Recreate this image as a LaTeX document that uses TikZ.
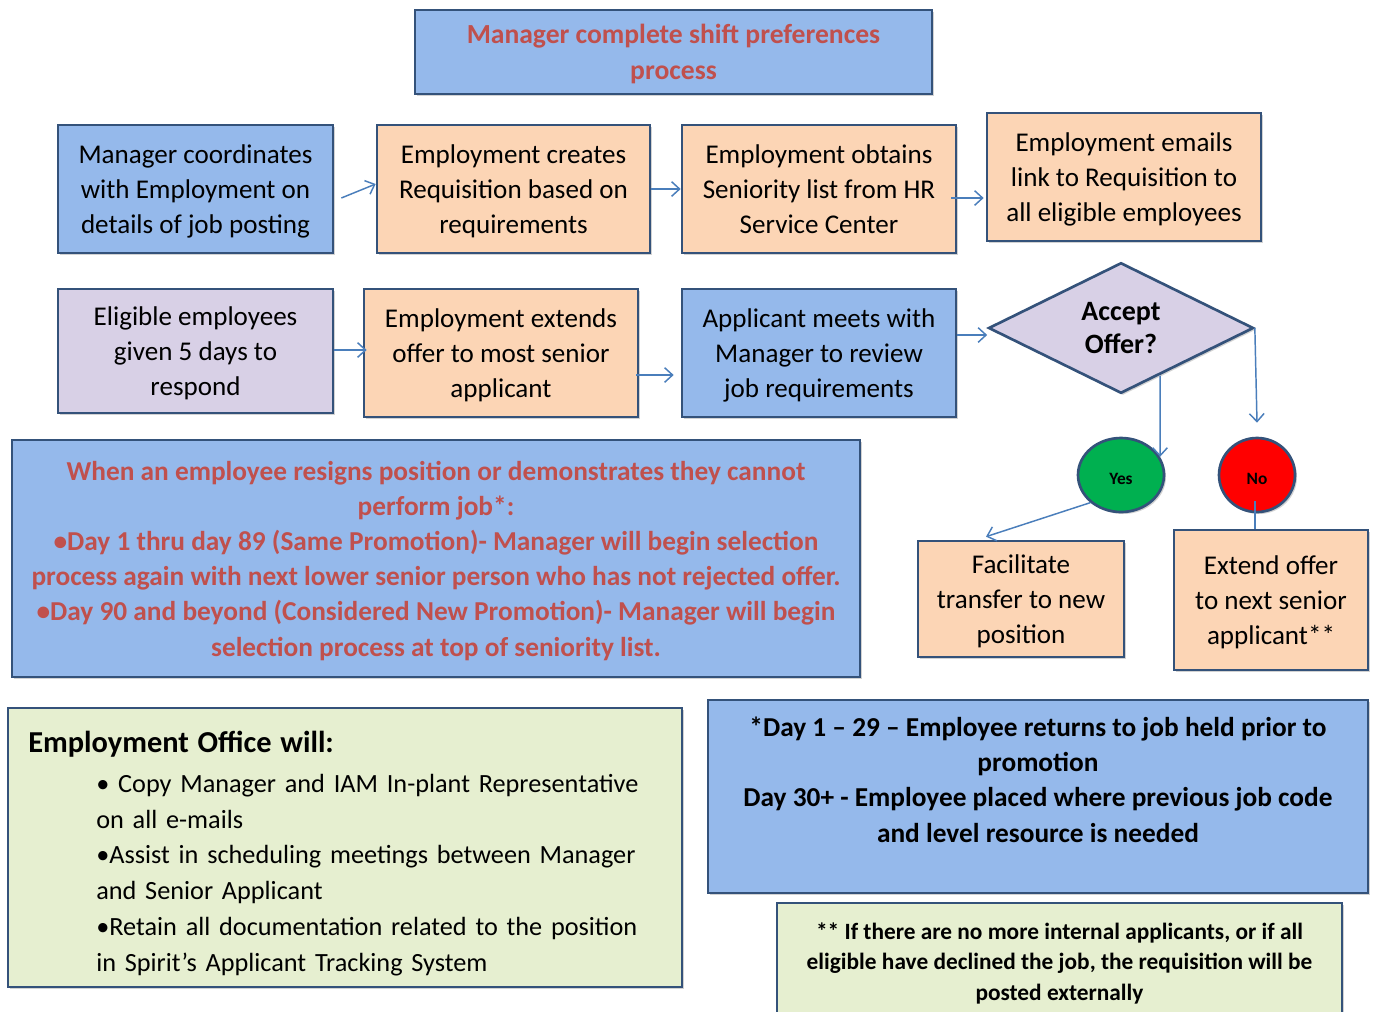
\documentclass[tikz,border=0pt]{standalone}
\usepackage{fontspec}
\setmainfont{Carlito}
\usetikzlibrary{shapes.geometric,arrows.meta,shadows}

\definecolor{skyfill}{RGB}{149,185,235}
\definecolor{peachfill}{RGB}{252,213,181}
\definecolor{lilacfill}{RGB}{216,208,230}
\definecolor{limefill}{RGB}{230,239,208}
\definecolor{edgeblue}{RGB}{52,82,122}
\definecolor{flowblue}{RGB}{74,126,187}
\definecolor{alertred}{RGB}{192,80,77}
\definecolor{yesgreen}{RGB}{0,176,80}
\definecolor{nored}{RGB}{255,0,0}

\begin{document}
\begin{tikzpicture}
  [x=0.75pt,y=-0.75pt,
   every node/.style={inner sep=0pt,align=center,text depth=0pt,
     font=\fontsize{20.3}{26.3}\selectfont},
   procbox/.style={draw=edgeblue,line width=2pt,
     drop shadow={shadow xshift=1.5pt,shadow yshift=-1.5pt,opacity=0.35}},
   bluebox/.style={procbox,fill=skyfill},
   peachbox/.style={procbox,fill=peachfill},
   lilacbox/.style={procbox,fill=lilacfill},
   limebox/.style={procbox,fill=limefill},
   answer/.style={procbox,ellipse,minimum height=55.5pt,
     execute at begin node={\rule{0pt}{14pt}},font=\fontsize{13}{15}\selectfont\bfseries},
   redtext/.style={text=alertred,font=\fontsize{20.5}{26.4}\selectfont\bfseries},
   flow/.style={draw=flowblue,line width=1.1pt,-{Straight Barb[length=6pt,width=11pt]}},
   link/.style={draw=flowblue,line width=1.1pt}]
  \fill[white] (0,0) rectangle (1376,1011);
  \useasboundingbox (0,0) rectangle (1376,1011);

  % title
  \node[bluebox,redtext,minimum width=387.75pt,minimum height=63pt,
    font=\fontsize{20.7}{27}\selectfont\bfseries] (title) at (673.5,52)
    {Manager complete shift preferences\\process};

  % first row
  \node[bluebox,minimum width=206.25pt,minimum height=96pt] (mgr) at (195.5,189)
    {Manager coordinates\\with Employment on\\details of job posting};
  \node[peachbox,minimum width=204.75pt,minimum height=96pt] (req) at (513.5,189)
    {Employment creates\\Requisition based on\\requirements};
  \node[peachbox,minimum width=205.5pt,minimum height=96pt] (sen) at (819,189)
    {Employment obtains\\Seniority list from HR\\Service Center};
  \node[peachbox,minimum width=205.5pt,minimum height=96pt] (mail) at (1124,177)
    {Employment emails\\link to Requisition to\\all eligible employees};

  % second row
  \node[lilacbox,minimum width=206.25pt,minimum height=93pt] (elig) at (195.5,351)
    {Eligible employees\\given 5 days to\\respond};
  \node[peachbox,minimum width=205.5pt,minimum height=96pt] (ext) at (501,353)
    {Employment extends\\offer to most senior\\applicant};
  \node[bluebox,minimum width=205.5pt,minimum height=96pt] (meet) at (819,353)
    {Applicant meets with\\Manager to review\\job requirements};
  \node[lilacbox,diamond,minimum width=198.75pt,minimum height=97.5pt,
    font=\fontsize{21}{25}\selectfont\bfseries] (dia) at (1121,328) {Accept\\Offer?};

  % answers
  \node[answer,fill=yesgreen,minimum width=64.5pt] (yes) at (1121,475) {Yes};
  \node[answer,fill=nored,minimum width=57pt] (no) at (1257,475) {No};
  \node[peachbox,minimum width=154.5pt,minimum height=87pt] (fac) at (1021,599)
    {Facilitate\\transfer to new\\position};
  \node[peachbox,minimum width=145.5pt,minimum height=105pt] (next) at (1271,600)
    {Extend offer\\to next senior\\applicant**};

  % notes
  \node[bluebox,redtext,minimum width=636pt,minimum height=177.75pt] (rule) at (436,558.5)
    {When an employee resigns position or demonstrates they cannot\\
     perform job*:\\
     •Day 1 thru day 89 (Same Promotion)- Manager will begin selection\\
     process again with next lower senior person who has not rejected offer.\\
     •Day 90 and beyond (Considered New Promotion)- Manager will begin\\
     selection process at top of seniority list.};
  \node[limebox,minimum width=505.5pt,minimum height=209.25pt,align=left,text depth={},
    text width=475pt,inner xsep=15pt,font=\fontsize{19.7}{26.9}\selectfont] (office) at (345,847.5)
    {{\fontsize{22.8}{30}\selectfont\bfseries\rule{0pt}{25pt}Employment Office will:}\\[3pt]
     \hspace*{51pt}• Copy Manager and IAM In-plant Representative\\
     \hspace*{51pt}on all e-mails\\
     \hspace*{51pt}•Assist in scheduling meetings between Manager\\
     \hspace*{51pt}and Senior Applicant\\
     \hspace*{51pt}•Retain all documentation related to the position\\
     \hspace*{51pt}in Spirit’s Applicant Tracking System};
  \node[bluebox,minimum width=495pt,minimum height=144.75pt,
    font=\fontsize{20.5}{26.6}\selectfont\bfseries] (day) at (1038,796.5)
    {*Day 1 – 29 – Employee returns to job held prior to\\
     promotion\\
     Day 30+ - Employee placed where previous job code\\
     and level resource is needed\\[-1pt]\mbox{}};
  \node[limebox,minimum width=423.75pt,minimum height=87.75pt,
    font=\fontsize{17.5}{23}\selectfont\bfseries] (extnote) at (1059.5,961.5)
    {** If there are no more internal applicants, or if all\\
     eligible have declined the job, the requisition will be\\
     posted externally};

  % connectors
  \draw[flow] ([shift={(7,9)}]mgr.east) -- ([shift={(0,-5)}]req.west);
  \draw[flow] (req.east) -- (sen.west);
  \draw[flow] ([shift={(-6,9)}]sen.east) -- ([shift={(-2,21)}]mail.west);
  \draw[flow] ([shift={(0,-1)}]elig.east) -- ([shift={(4,-3)}]ext.west);
  \draw[flow] ([shift={(-3,22)}]ext.east) -- ([shift={(-7,22)}]meet.west);
  \draw[flow] ([shift={(0,-18)}]meet.east) -- ([shift={(0,7)}]dia.west);
  \draw[flow] ([shift={(39,-19)}]dia.south) -- (yes.25);
  \draw[flow] (dia.east) -- ([shift={(0,-14)}]no.north);
  \draw[flow] (yes.222) -- ([shift={(-35,-3)}]fac.north);
  \draw[link] ([shift={(-2,-12)}]no.south) -- ([shift={(-16,0)}]next.north);
\end{tikzpicture}
\end{document}
